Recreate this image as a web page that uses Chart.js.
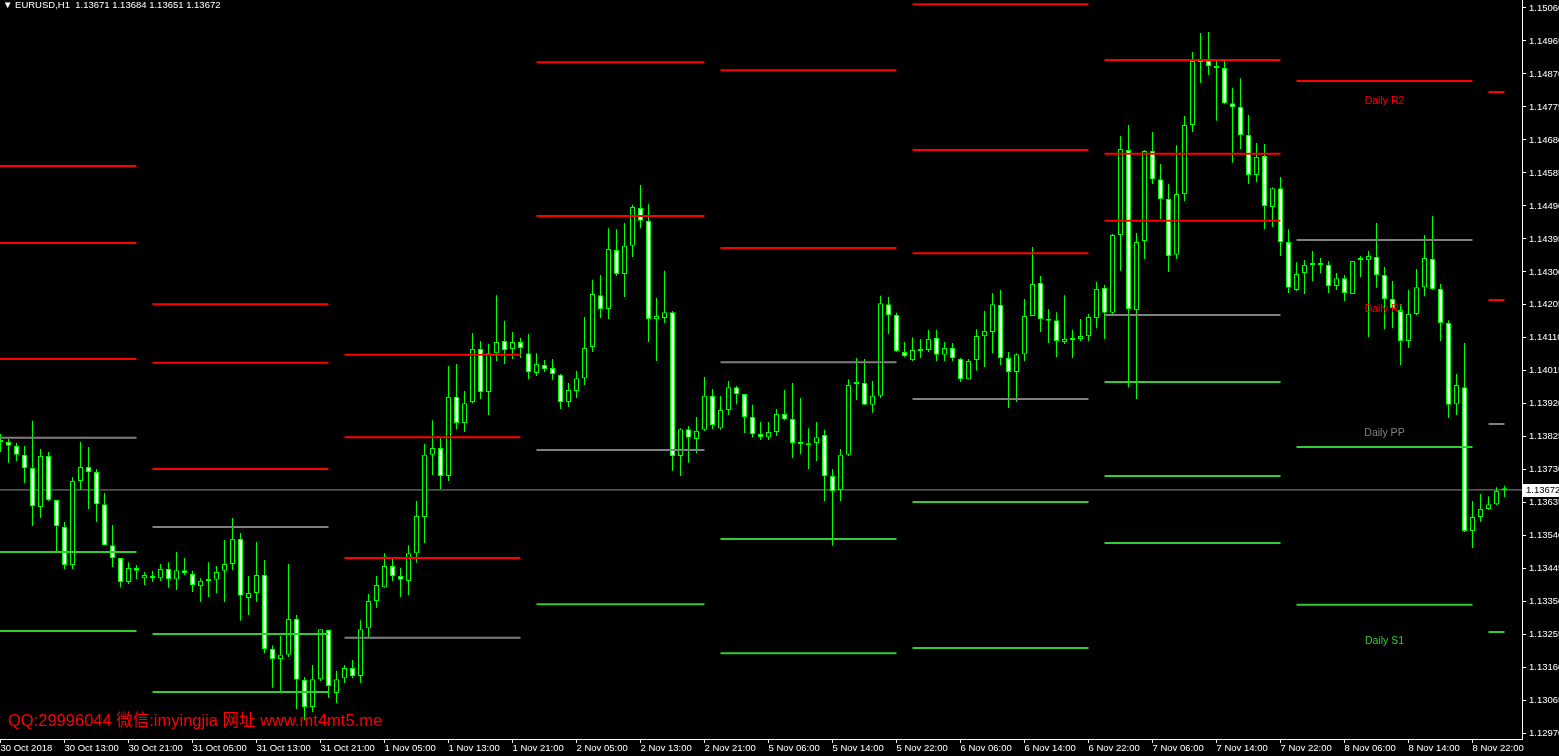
<!DOCTYPE html>
<html>
<head>
<meta charset="utf-8">
<script src="https://cdn.jsdelivr.net/npm/chart.js@4.4.1/dist/chart.umd.min.js"></script>
<style>
  html, body { margin: 0; padding: 0; background: #000; overflow: hidden; }
  #wrap { position: relative; width: 1559px; height: 756px; }
  #header { position: absolute; left: 3px; top: -1px; color: #fff; font: 9.5px "Liberation Sans", "DejaVu Sans", sans-serif; white-space: pre; line-height: 12px; }
  #mark { position: absolute; left: 8px; top: 711px; color: #f00; font: 16.5px "Liberation Sans", "Noto Sans CJK SC", sans-serif; white-space: pre; line-height: 18px; }
</style>
</head>
<body>
<div id="wrap">
  <canvas id="chart"></canvas>
  <div id="header"></div>
  <div id="mark">QQ:29996044 微信:imyingjia 网址 www.mt4mt5.me</div>
</div>
<script>
const symbol = 'EURUSD,H1';

// hourly candles, 30 Oct 05:00 .. 9 Nov 02:00
const open = [
  1.13813,1.13810,1.13799,1.13773,1.13735,1.13623,1.13770,1.13643,1.13565,1.13456,
  1.13698,1.13738,1.13724,1.13631,1.13513,1.13476,1.13407,1.13447,1.13418,1.13424,
  1.13418,1.13444,1.13415,1.13441,1.13430,1.13395,1.13413,1.13413,1.13439,1.13459,
  1.13531,1.13361,1.13375,1.13427,1.13214,1.13185,1.13197,1.13300,1.13125,1.13047,
  1.13127,1.13269,1.13087,1.13130,1.13159,1.13136,1.13274,1.13352,1.13392,1.13453,
  1.13424,1.13410,1.13490,1.13594,1.13773,1.13793,1.13712,1.13940,1.13865,1.13925,
  1.14078,1.13954,1.14066,1.14101,1.14078,1.14098,1.14066,1.14009,1.14032,1.14023,
  1.14003,1.13925,1.13957,1.13994,1.14084,1.14233,1.14193,1.14363,1.14294,1.14375,
  1.14484,1.14447,1.14164,1.14167,1.14184,1.13770,1.13847,1.13819,1.13845,1.13943,
  1.13850,1.13902,1.13968,1.13948,1.13882,1.13833,1.13824,1.13839,1.13891,1.13876,
  1.13807,1.13804,1.13807,1.13830,1.13712,1.13672,1.13773,1.13977,1.13980,1.13917,
  1.13943,1.14207,1.14176,1.14069,1.14046,1.14075,1.14075,1.14110,1.14061,1.14081,
  1.14049,1.13991,1.14046,1.14115,1.14127,1.14205,1.14052,1.14012,1.14063,1.14173,
  1.14268,1.14161,1.14161,1.14098,1.14107,1.14107,1.14115,1.14167,1.14254,1.14182,
  1.14406,1.14651,1.14190,1.14389,1.14648,1.14567,1.14510,1.14349,1.14524,1.14723,
  1.14904,1.14907,1.14893,1.14887,1.14786,1.14775,1.14694,1.14579,1.14634,1.14487,
  1.14541,1.14386,1.14248,1.14297,1.14320,1.14320,1.14320,1.14259,1.14282,1.14236,
  1.14334,1.14334,1.14343,1.14291,1.14222,1.14190,1.14101,1.14179,1.14256,1.14337,
  1.14251,1.14153,1.13919,1.13968,1.13554,1.13594,1.13617,1.13631,1.13671
];
const high = [
  1.13833,1.13819,1.13807,1.13799,1.13871,1.13790,1.13781,1.13643,1.13580,1.13709,
  1.13810,1.13796,1.13732,1.13663,1.13571,1.13476,1.13464,1.13456,1.13436,1.13439,
  1.13459,1.13464,1.13493,1.13476,1.13439,1.13418,1.13464,1.13453,1.13528,1.13591,
  1.13548,1.13424,1.13522,1.13470,1.13225,1.13251,1.13459,1.13312,1.13133,1.13168,
  1.13271,1.13269,1.13151,1.13168,1.13182,1.13297,1.13372,1.13424,1.13490,1.13473,
  1.13447,1.13513,1.13640,1.13804,1.13873,1.13822,1.14029,1.14035,1.13957,1.14124,
  1.14101,1.14092,1.14233,1.14159,1.14127,1.14110,1.14121,1.14066,1.14046,1.14049,
  1.14006,1.13980,1.14015,1.14170,1.14277,1.14291,1.14426,1.14423,1.14441,1.14493,
  1.14550,1.14495,1.14225,1.14303,1.14187,1.13850,1.13856,1.13882,1.13997,1.13963,
  1.13943,1.13986,1.13971,1.13948,1.13917,1.13868,1.13868,1.13905,1.13960,1.13980,
  1.13937,1.13850,1.13868,1.13845,1.13732,1.13790,1.13991,1.14052,1.14049,1.13986,
  1.14231,1.14228,1.14182,1.14098,1.14112,1.14107,1.14133,1.14133,1.14098,1.14095,
  1.14052,1.14049,1.14135,1.14187,1.14239,1.14248,1.14069,1.14066,1.14222,1.14372,
  1.14288,1.14193,1.14184,1.14233,1.14133,1.14164,1.14179,1.14271,1.14262,1.14409,
  1.14691,1.14723,1.14412,1.14651,1.14703,1.14611,1.14553,1.14665,1.14749,1.14933,
  1.14988,1.14991,1.14907,1.14907,1.14830,1.14858,1.14752,1.14671,1.14668,1.14544,
  1.14573,1.14423,1.14328,1.14334,1.14360,1.14340,1.14331,1.14297,1.14291,1.14331,
  1.14346,1.14360,1.14441,1.14314,1.14274,1.14207,1.14248,1.14308,1.14406,1.14461,
  1.14265,1.14161,1.14006,1.14095,1.13640,1.13660,1.13654,1.13680,1.13684
];
const low = [
  1.13781,1.13750,1.13755,1.13692,1.13568,1.13591,1.13640,1.13496,1.13444,1.13444,
  1.13672,1.13617,1.13580,1.13513,1.13450,1.13392,1.13401,1.13415,1.13398,1.13407,
  1.13410,1.13390,1.13384,1.13427,1.13378,1.13349,1.13364,1.13375,1.13349,1.13441,
  1.13295,1.13312,1.13349,1.13202,1.13102,1.13093,1.13191,1.13041,1.13009,1.13032,
  1.13122,1.13073,1.13058,1.13116,1.13130,1.13116,1.13246,1.13332,1.13390,1.13410,
  1.13364,1.13369,1.13462,1.13519,1.13715,1.13675,1.13698,1.13847,1.13839,1.13922,
  1.13934,1.13888,1.14043,1.14035,1.14049,1.14052,1.13991,1.14000,1.14012,1.13989,
  1.13905,1.13911,1.13937,1.13974,1.14069,1.14167,1.14164,1.14288,1.14228,1.14343,
  1.14426,1.14098,1.14043,1.14153,1.13727,1.13712,1.13750,1.13778,1.13842,1.13847,
  1.13845,1.13888,1.13919,1.13836,1.13824,1.13816,1.13816,1.13827,1.13873,1.13764,
  1.13775,1.13732,1.13755,1.13640,1.13511,1.13640,1.13770,1.13931,1.13917,1.13894,
  1.13937,1.14121,1.14069,1.14055,1.14043,1.14052,1.14069,1.14043,1.14043,1.14043,
  1.13983,1.13991,1.14015,1.14026,1.14066,1.14032,1.13908,1.13925,1.14043,1.14173,
  1.14127,1.14095,1.14055,1.14092,1.14052,1.14101,1.14101,1.14138,1.14107,1.14179,
  1.14303,1.13968,1.13934,1.14337,1.14553,1.14452,1.14300,1.14337,1.14504,1.14703,
  1.14844,1.14867,1.14735,1.14783,1.14614,1.14654,1.14553,1.14559,1.14423,1.14429,
  1.14346,1.14239,1.14245,1.14236,1.14274,1.14297,1.14239,1.14248,1.14216,1.14236,
  1.14285,1.14112,1.14254,1.14135,1.14138,1.14032,1.14081,1.14176,1.14230,1.14248,
  1.14101,1.13879,1.13888,1.13551,1.13505,1.13580,1.13614,1.13628,1.13651
];
const close = [
  1.13810,1.13799,1.13773,1.13735,1.13626,1.13770,1.13643,1.13568,1.13456,1.13698,
  1.13738,1.13724,1.13631,1.13513,1.13476,1.13407,1.13447,1.13439,1.13427,1.13418,
  1.13444,1.13415,1.13441,1.13433,1.13398,1.13410,1.13410,1.13436,1.13459,1.13531,
  1.13367,1.13375,1.13427,1.13214,1.13185,1.13197,1.13300,1.13125,1.13047,1.13127,
  1.13271,1.13107,1.13127,1.13159,1.13136,1.13271,1.13352,1.13398,1.13453,1.13424,
  1.13413,1.13490,1.13597,1.13773,1.13793,1.13712,1.13940,1.13865,1.13922,1.14078,
  1.13954,1.14066,1.14098,1.14075,1.14098,1.14081,1.14012,1.14035,1.14020,1.14006,
  1.13925,1.13960,1.13994,1.14081,1.14236,1.14193,1.14366,1.14294,1.14375,1.14487,
  1.14447,1.14164,1.14173,1.14184,1.13770,1.13847,1.13822,1.13842,1.13943,1.13859,
  1.13902,1.13968,1.13948,1.13882,1.13833,1.13824,1.13839,1.13891,1.13876,1.13807,
  1.13804,1.13801,1.13824,1.13712,1.13669,1.13773,1.13974,1.13983,1.13917,1.13943,
  1.14210,1.14176,1.14072,1.14058,1.14075,1.14072,1.14107,1.14061,1.14081,1.14052,
  1.13991,1.14043,1.14115,1.14130,1.14207,1.14052,1.14012,1.14063,1.14173,1.14265,
  1.14164,1.14159,1.14101,1.14107,1.14104,1.14115,1.14170,1.14251,1.14182,1.14406,
  1.14654,1.14193,1.14386,1.14648,1.14567,1.14510,1.14346,1.14524,1.14723,1.14907,
  1.14907,1.14893,1.14887,1.14786,1.14775,1.14694,1.14579,1.14631,1.14490,1.14541,
  1.14386,1.14254,1.14294,1.14320,1.14320,1.14320,1.14259,1.14282,1.14239,1.14331,
  1.14334,1.14346,1.14291,1.14222,1.14196,1.14101,1.14179,1.14256,1.14340,1.14251,
  1.14153,1.13917,1.13974,1.13554,1.13594,1.13617,1.13631,1.13669,1.13672
];

// time axis: bar index of each label, and its text
const timeTickBars = [0, 8, 16, 24, 32, 40, 48, 56, 64, 72, 80, 88, 96, 104, 112, 120, 128, 136, 144, 152, 160, 168, 176, 184];
const timeLabels = ['30 Oct 2018', '30 Oct 13:00', '30 Oct 21:00', '31 Oct 05:00', '31 Oct 13:00', '31 Oct 21:00',
  '1 Nov 05:00', '1 Nov 13:00', '1 Nov 21:00', '2 Nov 05:00', '2 Nov 13:00', '2 Nov 21:00',
  '5 Nov 06:00', '5 Nov 14:00', '5 Nov 22:00', '6 Nov 06:00', '6 Nov 14:00', '6 Nov 22:00',
  '7 Nov 06:00', '7 Nov 14:00', '7 Nov 22:00', '8 Nov 06:00', '8 Nov 14:00', '8 Nov 22:00'];
const priceTicks = [1.15060, 1.14965, 1.14870, 1.14775, 1.14680, 1.14585, 1.14490, 1.14395, 1.14300, 1.14205,
  1.14110, 1.14015, 1.13920, 1.13825, 1.13730, 1.13635, 1.13540, 1.13445, 1.13350, 1.13255, 1.13160, 1.13065, 1.12970];

// daily pivot levels, one entry per day (30 Oct .. 9 Nov), null = off chart
const dayStart = [-1, 19, 43, 67, 90, 114, 138, 162, 186];
const dayEnd   = [17, 41, 65, 88, 112, 136, 160, 184, 188];
const r3 = [1.14605, 1.14207, 1.14061, null, null, 1.15071, 1.14910, null, null];
const r2 = [1.14383, 1.14038, 1.13824, 1.14904, 1.14881, 1.14651, 1.14640, null, 1.14818];
const r1 = [1.14049, 1.13732, 1.13476, 1.14461, 1.14369, 1.14354, 1.14447, 1.14850, 1.14219];
const pp = [1.13822, 1.13565, 1.13246, 1.13787, 1.14040, 1.13934, 1.14176, 1.14392, 1.13862];
const s1 = [1.13493, 1.13257, null, 1.13343, 1.13531, 1.13637, 1.13983, 1.13796, 1.13263];
const s2 = [1.13266, 1.13090, null, null, 1.13202, 1.13217, 1.13712, 1.13341, null];
const s3 = [null, null, null, null, null, null, 1.13519, null, null];
const levelLabels = ['Daily R2', 'Daily R1', 'Daily PP', 'Daily S1'];
const labelBar = 173;

const BULL = '#000000', BEAR = '#ffffff', OUTLINE = '#00ff00';
const RES = '#ff0000', PIV = '#808080', SUP = '#32cd32';
const X_MIN = -0.0625, X_MAX = 190.1875;
const Y_MIN = 1.1295468, Y_MAX = 1.15083;

Chart.defaults.font.family = '"Liberation Sans", sans-serif';
Chart.defaults.font.size = 9.5;

const n = close.length - 1;
document.getElementById('header').textContent =
  '\u25BC ' + symbol + '  ' + [open[n], high[n], low[n], close[n]].map(v => v.toFixed(5)).join(' ');

function segments(levels) {
  const pts = [];
  levels.forEach(arr => arr.forEach((v, d) => {
    if (v === null) return;
    pts.push({ x: dayStart[d], y: v }, { x: dayEnd[d], y: v }, { x: dayEnd[d], y: null });
  }));
  return pts;
}

function levelLine(levels, color) {
  return { type: 'line', data: segments(levels), borderColor: color, borderWidth: 2,
    pointRadius: 0, borderCapStyle: 'butt', order: 1 };
}

// labels of today's levels + price box on the axis
const overlay = {
  id: 'overlay',
  afterDatasetsDraw(chart) {
    const { ctx, scales: { x, y } } = chart;
    const d = dayStart.length - 1;
    const items = [[levelLabels[0], r2[d], RES], [levelLabels[1], r1[d], RES],
      [levelLabels[2], pp[d], PIV], [levelLabels[3], s1[d], SUP]];
    ctx.save();
    ctx.font = '10.5px "Liberation Sans", sans-serif';
    ctx.textAlign = 'center';
    ctx.textBaseline = 'middle';
    items.forEach(([t, v, c]) => {
      ctx.fillStyle = c;
      ctx.fillText(t, x.getPixelForValue(labelBar), y.getPixelForValue(v) + 9);
    });
    const py = Math.round(y.getPixelForValue(close[n]));
    ctx.fillStyle = '#fff';
    ctx.fillRect(x.right + 1, py - 6, chart.width - x.right - 1, 13);
    ctx.fillStyle = '#000';
    ctx.textAlign = 'left';
    ctx.font = '9.5px "Liberation Sans", sans-serif';
    ctx.fillText(close[n].toFixed(5), x.right + 4, py + 0.5);
    ctx.restore();
  }
};

const idx = close.map((_, i) => i);

new Chart(document.getElementById('chart'), {
  type: 'bar',
  data: {
    datasets: [
      { type: 'line', data: [{ x: X_MIN, y: close[n] }, { x: X_MAX, y: close[n] }],
        borderColor: '#8c8c8c', borderWidth: 1, pointRadius: 0, order: 4 },
      { data: idx.map(i => ({ x: i, y: [low[i], high[i]] })),
        backgroundColor: OUTLINE, barThickness: 1, grouped: false, inflateAmount: 0, order: 3 },
      { data: idx.map(i => ({ x: i, y: [open[i], close[i]] })),
        backgroundColor: (c) => close[c.dataIndex] >= open[c.dataIndex] ? BULL : BEAR,
        borderColor: OUTLINE, borderWidth: 1, borderSkipped: false, inflateAmount: 0,
        barThickness: 5, minBarLength: 2, grouped: false, order: 2 },
      levelLine([r3, r2, r1], RES),
      levelLine([pp], PIV),
      levelLine([s1, s2, s3], SUP)
    ]
  },
  options: {
    animation: false,
    responsive: true,
    maintainAspectRatio: false,
    devicePixelRatio: 1,
    events: [],
    layout: { padding: 0 },
    plugins: { legend: { display: false }, tooltip: { enabled: false } },
    scales: {
      x: {
        type: 'linear', min: X_MIN, max: X_MAX, offset: false,
        grid: { drawOnChartArea: false, color: '#fff', tickLength: 4, offset: false },
        border: { color: '#fff' },
        ticks: { color: '#fff', padding: 0, align: 'start', autoSkip: false, maxRotation: 0, minRotation: 0,
          callback: (v, i) => timeLabels[i] },
        afterBuildTicks: (s) => { s.ticks = timeTickBars.map(v => ({ value: v })); },
        afterFit: (s) => { s.height = 17; s.paddingLeft = s.paddingRight = 0; }
      },
      y: {
        type: 'linear', position: 'right', min: Y_MIN, max: Y_MAX,
        grid: { drawOnChartArea: false, color: '#fff', tickLength: 4 },
        border: { color: '#fff' },
        ticks: { color: '#fff', padding: 3, autoSkip: false, callback: (v) => v.toFixed(5) },
        afterBuildTicks: (s) => { s.ticks = priceTicks.map(v => ({ value: v })); },
        afterFit: (s) => { s.width = 37; s.paddingTop = s.paddingBottom = 0; }
      }
    }
  },
  plugins: [overlay]
});
</script>
</body>
</html>
